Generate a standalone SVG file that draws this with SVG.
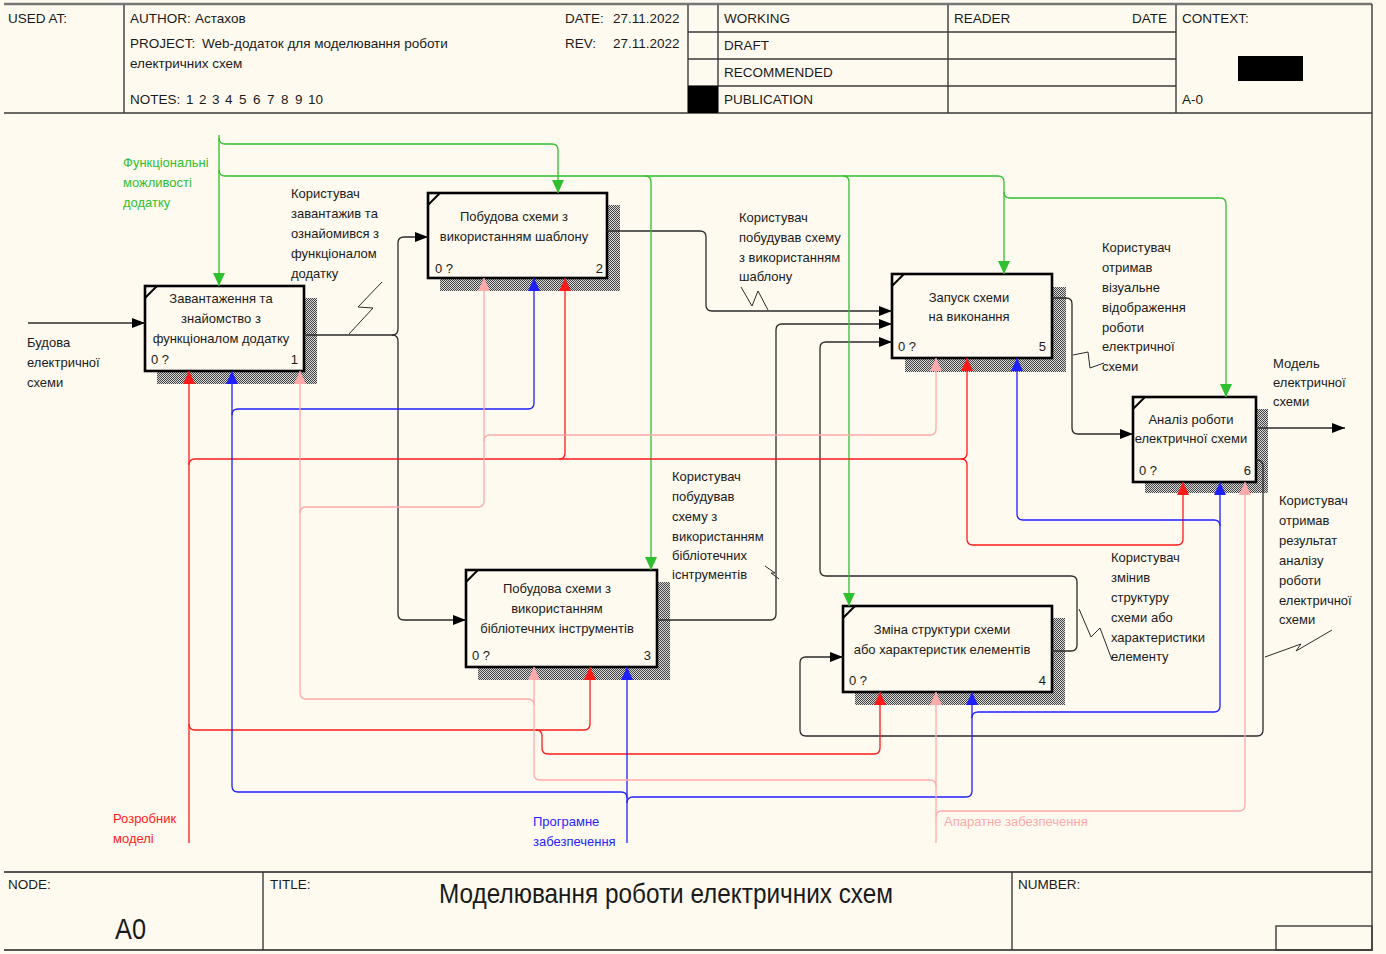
<svg xmlns="http://www.w3.org/2000/svg" width="1386" height="954" viewBox="0 0 1386 954">
<style>
  text { font-family: "Liberation Sans", Arial, sans-serif; font-size: 13px; fill: #1a1a1a; }
  .hdr { font-size: 13.5px; }
  .box { fill: #fffaf0; stroke: #000; stroke-width: 2.6; }
  .shadow { fill: url(#hatch); }
  .corner { stroke: #000; stroke-width: 2; fill: none; }
  .frame { stroke: #3a3a3a; stroke-width: 1.4; fill: none; }
  .c { fill: none; stroke-width: 1.3; }
  .k { stroke: #2b2b2b; marker-end: url(#ak); }
  .g { stroke: #2ec02e; }
  .ga { stroke: #2ec02e; marker-end: url(#ag); }
  .ra { stroke: #ff1a1a; marker-end: url(#ar); }
  .ba { stroke: #1f1fff; marker-end: url(#ab); }
  .pa { stroke: #ffaaaa; marker-end: url(#ap); }
  .zz { fill: none; stroke: #2b2b2b; stroke-width: 1; }
  .mid { text-anchor: middle; }
  .end { text-anchor: end; }
</style>
<defs>
  <pattern id="hatch" width="2" height="2" patternUnits="userSpaceOnUse">
    <rect width="2" height="2" fill="#d8d8d8"/>
    <rect width="1" height="1" fill="#444"/>
    <rect x="1" y="1" width="1" height="1" fill="#444"/>
  </pattern>
  <marker id="ak" markerUnits="userSpaceOnUse" markerWidth="13" markerHeight="10" refX="13" refY="5" orient="auto"><path d="M0,0 L13,5 L0,10 z" fill="#000"/></marker>
  <marker id="ag" markerUnits="userSpaceOnUse" markerWidth="13" markerHeight="12" refX="13" refY="6" orient="auto"><path d="M0,0 L13,6 L0,12 z" fill="#2ec02e"/></marker>
  <marker id="ar" markerUnits="userSpaceOnUse" markerWidth="13" markerHeight="12" refX="13" refY="6" orient="auto"><path d="M0,0 L13,6 L0,12 z" fill="#ff1a1a"/></marker>
  <marker id="ab" markerUnits="userSpaceOnUse" markerWidth="13" markerHeight="12" refX="13" refY="6" orient="auto"><path d="M0,0 L13,6 L0,12 z" fill="#1f1fff"/></marker>
  <marker id="ap" markerUnits="userSpaceOnUse" markerWidth="13" markerHeight="12" refX="13" refY="6" orient="auto"><path d="M0,0 L13,6 L0,12 z" fill="#ffaaaa"/></marker>
</defs>

<rect width="1386" height="954" fill="#fffaf0"/>

<!-- header block -->
<g id="header">
  <line x1="4" y1="4" x2="1372" y2="4" stroke="#777" stroke-width="2.6"/>
  <line class="frame" x1="4" y1="113" x2="1372" y2="113"/>
  <line class="frame" x1="124" y1="5" x2="124" y2="113"/>
  <line class="frame" x1="688" y1="5" x2="688" y2="113"/>
  <line class="frame" x1="718" y1="5" x2="718" y2="113"/>
  <line class="frame" x1="948" y1="5" x2="948" y2="113"/>
  <line class="frame" x1="1176" y1="5" x2="1176" y2="113"/>
  <line class="frame" x1="688" y1="32" x2="1176" y2="32"/>
  <line class="frame" x1="688" y1="59" x2="1176" y2="59"/>
  <line class="frame" x1="688" y1="86" x2="1176" y2="86"/>
  <rect x="688" y="86" width="30" height="27" fill="#000"/>
  <rect x="1238" y="56" width="65" height="25" fill="#000"/>
  <text class="hdr" x="8" y="23">USED AT:</text>
  <text class="hdr" x="130" y="23">AUTHOR:</text>
  <text class="hdr" x="195" y="23">Астахов</text>
  <text class="hdr" x="130" y="48">PROJECT:</text>
  <text class="hdr" x="202" y="48">Web-додаток для моделювання роботи</text>
  <text class="hdr" x="130" y="68">електричних схем</text>
  <text class="hdr" x="130" y="104">NOTES:</text>
  <text class="hdr" x="186" y="104">1</text>
  <text class="hdr" x="199" y="104">2</text>
  <text class="hdr" x="212" y="104">3</text>
  <text class="hdr" x="225" y="104">4</text>
  <text class="hdr" x="239" y="104">5</text>
  <text class="hdr" x="253" y="104">6</text>
  <text class="hdr" x="267" y="104">7</text>
  <text class="hdr" x="281" y="104">8</text>
  <text class="hdr" x="295" y="104">9</text>
  <text class="hdr" x="308" y="104">10</text>
  <text class="hdr" x="565" y="23">DATE:</text>
  <text class="hdr" x="613" y="23">27.11.2022</text>
  <text class="hdr" x="565" y="48">REV:</text>
  <text class="hdr" x="613" y="48">27.11.2022</text>
  <text class="hdr" x="724" y="23">WORKING</text>
  <text class="hdr" x="724" y="50">DRAFT</text>
  <text class="hdr" x="724" y="77">RECOMMENDED</text>
  <text class="hdr" x="724" y="104">PUBLICATION</text>
  <text class="hdr" x="954" y="23">READER</text>
  <text class="hdr end" x="1167" y="23">DATE</text>
  <text class="hdr" x="1182" y="23">CONTEXT:</text>
  <text class="hdr" x="1182" y="104">A-0</text>
</g>

<!-- right edge and footer -->
<g id="footer">
  <line class="frame" x1="1372" y1="4" x2="1372" y2="951"/>
  <line x1="4" y1="872" x2="1372" y2="872" stroke="#555" stroke-width="2"/>
  <line x1="4" y1="950" x2="1372" y2="950" stroke="#555" stroke-width="2"/>
  <line class="frame" x1="263" y1="872" x2="263" y2="950"/>
  <line class="frame" x1="1012" y1="872" x2="1012" y2="950"/>
  <rect class="frame" x="1276" y="926" width="96" height="24"/>
  <text class="hdr" x="8" y="889">NODE:</text>
  <text x="115" y="939" style="font-size:30px" textLength="31" lengthAdjust="spacingAndGlyphs">A0</text>
  <text class="hdr" x="270" y="889">TITLE:</text>
  <text x="439" y="903" style="font-size:28px" textLength="454" lengthAdjust="spacingAndGlyphs">Моделювання роботи електричних схем</text>
  <text class="hdr" x="1018" y="889">NUMBER:</text>
</g>

<!-- activity boxes -->
<g id="box1">
  <rect class="shadow" x="157" y="298" width="160" height="86"/>
  <rect class="box" x="145" y="286" width="159" height="85"/>
  <path class="corner" d="M145,298 L157,286"/>
  <text class="mid" x="221" y="303">Завантаження та</text>
  <text class="mid" x="221" y="323">знайомство з</text>
  <text class="mid" x="221" y="343">функціоналом додатку</text>
  <text x="151" y="364">0 ?</text>
  <text class="end" x="298" y="364">1</text>
</g>
<g id="box2">
  <rect class="shadow" x="440" y="205" width="180" height="86"/>
  <rect class="box" x="428" y="193" width="179" height="85"/>
  <path class="corner" d="M428,205 L440,193"/>
  <text class="mid" x="514" y="221">Побудова схеми з</text>
  <text class="mid" x="514" y="241">використанням шаблону</text>
  <text x="435" y="273">0 ?</text>
  <text class="end" x="603" y="273">2</text>
</g>
<g id="box3">
  <rect class="shadow" x="478" y="582" width="192" height="98"/>
  <rect class="box" x="466" y="570" width="191" height="97"/>
  <path class="corner" d="M466,582 L478,570"/>
  <text class="mid" x="557" y="593">Побудова схеми з</text>
  <text class="mid" x="557" y="613">використанням</text>
  <text class="mid" x="557" y="633">бібліотечних інструментів</text>
  <text x="472" y="660">0 ?</text>
  <text class="end" x="651" y="660">3</text>
</g>
<g id="box4">
  <rect class="shadow" x="855" y="618" width="210" height="87"/>
  <rect class="box" x="843" y="606" width="209" height="86"/>
  <path class="corner" d="M843,618 L855,606"/>
  <text class="mid" x="942" y="634">Зміна структури схеми</text>
  <text class="mid" x="942" y="654">або характеристик елементів</text>
  <text x="849" y="685">0 ?</text>
  <text class="end" x="1046" y="685">4</text>
</g>
<g id="box5">
  <rect class="shadow" x="905" y="287" width="161" height="85"/>
  <rect class="box" x="892" y="274" width="160" height="84"/>
  <path class="corner" d="M892,286 L904,274"/>
  <text class="mid" x="969" y="302">Запуск схеми</text>
  <text class="mid" x="969" y="321">на виконання</text>
  <text x="898" y="351">0 ?</text>
  <text class="end" x="1046" y="351">5</text>
</g>
<g id="box6">
  <rect class="shadow" x="1145" y="409" width="123" height="84"/>
  <rect class="box" x="1133" y="397" width="123" height="85"/>
  <path class="corner" d="M1133,409 L1145,397"/>
  <text class="mid" x="1191" y="424">Аналіз роботи</text>
  <text class="mid" x="1191" y="443">електричної схеми</text>
  <text x="1139" y="475">0 ?</text>
  <text class="end" x="1251" y="475">6</text>
</g>

<!-- connectors -->
<g id="connectors">
  <!-- inputs and outputs -->
  <path class="c k" d="M28,323 H145"/>
  <path class="c k" d="M304,335 H392 Q398,335 398,329 V243 Q398,237 404,237 H428"/>
  <path class="c k" d="M392,335 Q398,335 398,341 V614 Q398,620 404,620 H466"/>
  <path class="c k" d="M607,231 H700 Q706,231 706,237 V305 Q706,311 712,311 H892"/>
  <path class="c k" d="M657,620 H770 Q776,620 776,614 V330 Q776,324 782,324 H892"/>
  <path class="c k" d="M1052,651 H1071 Q1077,651 1077,645 V582 Q1077,576 1071,576 H826 Q820,576 820,570 V348 Q820,342 826,342 H892"/>
  <path class="c k" d="M1052,298 H1066 Q1072,298 1072,304 V428 Q1072,434 1078,434 H1133"/>
  <path class="c k" d="M1256,428 H1345"/>
  <path class="c k" d="M1256,460 H1257 Q1263,460 1263,466 V730 Q1263,736 1257,736 H806 Q800,736 800,730 V663 Q800,657 806,657 H843"/>

  <!-- controls -->
  <path class="c ga" d="M219,135 V286"/>
  <path class="c ga" d="M219,138 Q219,144 225,144 H552 Q558,144 558,150 V193"/>
  <path class="c ga" d="M219,170 Q219,176 225,176 H998 Q1004,176 1004,182 V274"/>
  <path class="c ga" d="M645,176 Q651,176 651,182 V570"/>
  <path class="c ga" d="M843,176 Q849,176 849,182 V606"/>
  <path class="c ga" d="M1004,192 Q1004,198 1010,198 H1220 Q1226,198 1226,204 V397"/>

  <!-- mechanism: model developer -->
  <path class="c ra" d="M189,843 V371"/>
  <path class="c ra" d="M189,465 Q189,459 195,459 H961 Q967,459 967,453 V358"/>
  <path class="c ra" d="M559,459 Q565,459 565,453 V278"/>
  <path class="c ra" d="M961,459 Q967,459 967,465 V539 Q967,545 973,545 H1177 Q1183,545 1183,539 V482"/>
  <path class="c ra" d="M189,724 Q189,730 195,730 H584 Q590,730 590,724 V667"/>
  <path class="c ra" d="M536,730 Q542,730 542,736 V748 Q542,754 548,754 H874 Q880,754 880,748 V692"/>

  <!-- mechanism: software -->
  <path class="c ba" d="M627,843 V667"/>
  <path class="c ba" d="M627,798 Q627,792 621,792 H238 Q232,792 232,786 V371"/>
  <path class="c ba" d="M232,415 Q232,409 238,409 H528 Q534,409 534,403 V278"/>
  <path class="c ba" d="M627,803 Q627,797 633,797 H966 Q972,797 972,791 V692"/>
  <path class="c ba" d="M972,718 Q972,712 978,712 H1214 Q1220,712 1220,706 V482"/>
  <path class="c ba" d="M1220,526 Q1220,520 1214,520 H1023 Q1017,520 1017,514 V358"/>

  <!-- mechanism: hardware -->
  <path class="c pa" d="M936,843 V692"/>
  <path class="c pa" d="M936,817 Q936,811 942,811 H1239 Q1245,811 1245,805 V482"/>
  <path class="c pa" d="M936,786 Q936,780 930,780 H540 Q534,780 534,774 V667"/>
  <path class="c pa" d="M534,705 Q534,699 528,699 H306 Q300,699 300,693 V371"/>
  <path class="c pa" d="M300,513 Q300,507 306,507 H478 Q484,507 484,501 V278"/>
  <path class="c pa" d="M484,441 Q484,435 490,435 H930 Q936,435 936,429 V358"/>

  <!-- label squiggles -->
  <path class="zz" d="M382,282 L358,307 L373,308 L349,334"/>
  <path class="zz" d="M741,287 L752,306 L758,291 L768,310"/>
  <path class="zz" d="M1073,355 L1088,352 L1090,368 L1104,363"/>
  <path class="zz" d="M765,566 L775,573 L771,573 L779,579"/>
  <path class="zz" d="M1079,609 L1091,637 L1100,628 L1112,660"/>
  <path class="zz" d="M1265,657 L1301,644 L1296,651 L1332,630"/>
</g>

<!-- connector labels -->
<g id="labels">
  <text x="27" y="347">Будова</text>
  <text x="27" y="367">електричної</text>
  <text x="27" y="387">схеми</text>
  <text x="123" y="167" style="fill:#2ec02e">Функціональні</text>
  <text x="123" y="187" style="fill:#2ec02e">можливості</text>
  <text x="123" y="207" style="fill:#2ec02e">додатку</text>
  <text x="291" y="198">Користувач</text>
  <text x="291" y="218">завантажив та</text>
  <text x="291" y="238">ознайомився з</text>
  <text x="291" y="258">функціоналом</text>
  <text x="291" y="278">додатку</text>
  <text x="739" y="222">Користувач</text>
  <text x="739" y="242">побудував схему</text>
  <text x="739" y="262">з використанням</text>
  <text x="739" y="281">шаблону</text>
  <text x="1102" y="252">Користувач</text>
  <text x="1102" y="272">отримав</text>
  <text x="1102" y="292">візуальне</text>
  <text x="1102" y="312">відображення</text>
  <text x="1102" y="332">роботи</text>
  <text x="1102" y="351">електричної</text>
  <text x="1102" y="371">схеми</text>
  <text x="1273" y="368">Модель</text>
  <text x="1273" y="387">електричної</text>
  <text x="1273" y="406">схеми</text>
  <text x="672" y="481">Користувач</text>
  <text x="672" y="501">побудував</text>
  <text x="672" y="521">схему з</text>
  <text x="672" y="541">використанням</text>
  <text x="672" y="560">бібліотечних</text>
  <text x="672" y="579">існтрументів</text>
  <text x="1111" y="562">Користувач</text>
  <text x="1111" y="582">змінив</text>
  <text x="1111" y="602">структуру</text>
  <text x="1111" y="622">схеми або</text>
  <text x="1111" y="642">характеристики</text>
  <text x="1111" y="661">елементу</text>
  <text x="1279" y="505">Користувач</text>
  <text x="1279" y="525">отримав</text>
  <text x="1279" y="545">результат</text>
  <text x="1279" y="565">аналізу</text>
  <text x="1279" y="585">роботи</text>
  <text x="1279" y="605">електричної</text>
  <text x="1279" y="624">схеми</text>
  <text x="113" y="823" style="fill:#ff1a1a">Розробник</text>
  <text x="113" y="843" style="fill:#ff1a1a">моделі</text>
  <text x="533" y="826" style="fill:#1f1fff">Програмне</text>
  <text x="533" y="846" style="fill:#1f1fff">забезпечення</text>
  <text x="944" y="826" style="fill:#ffaaaa">Апаратне забезпечення</text>
</g>
</svg>
